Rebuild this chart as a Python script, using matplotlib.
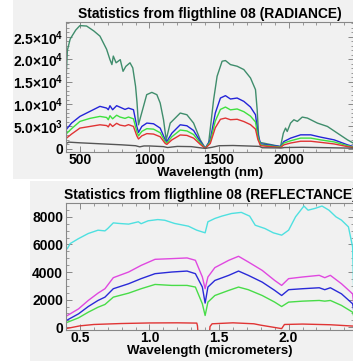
import matplotlib
matplotlib.use("Agg")
import matplotlib.pyplot as plt
from matplotlib.patches import Rectangle
from matplotlib.ticker import MultipleLocator, FixedLocator

plt.rcParams['font.family'] = ['Liberation Sans', 'DejaVu Sans']
plt.rcParams['font.weight'] = 'bold'
plt.rcParams['mathtext.fontset'] = 'custom'
plt.rcParams['mathtext.rm'] = 'Liberation Sans:bold'
plt.rcParams['mathtext.bf'] = 'Liberation Sans:bold'

# ---- радиация (верхний график), длина волны в нм ----
rad_green_x = [400, 410, 430, 470, 500, 548, 600, 644, 692, 716, 730, 740, 760, 790, 810, 830, 860, 880,
               900, 910, 921, 935, 957, 980, 1017, 1053, 1077, 1101, 1120, 1149, 1185, 1221, 1269, 1317,
               1365, 1401, 1425, 1461, 1486, 1522, 1546, 1582, 1630, 1678, 1726, 1762, 1774, 1786, 1798,
               1918, 1942, 1962, 1978, 1990, 2014, 2038, 2063, 2098, 2135, 2207, 2279, 2351, 2423, 2466]
rad_green = [15500, 22000, 24500, 26500, 27500, 27400, 26300, 25150, 22200, 19900, 18800, 20700, 19200,
             19900, 17300, 18400, 19200, 18060, 13950, 10500, 5370, 7000, 9480, 12090, 12600, 12090, 10220,
             6490, 2010, 5750, 6870, 7990, 7610, 5750, 2010, 150, 1270, 10970, 16190, 19550, 19700, 18800,
             18430, 17690, 15820, 13210, 8730, 2010, 1420, 670, 520, 3500, 4630, 3880, 5750, 6490, 6120,
             7090, 6870, 5750, 5000, 3500, 2010, 1270]

rad_x = [400, 440, 500, 572, 644, 692, 704, 716, 735, 764, 788, 824, 849, 885, 909, 921, 945, 981, 1029,
         1077, 1113, 1125, 1161, 1221, 1269, 1317, 1365, 1401, 1437, 1473, 1510, 1546, 1582, 1630, 1678,
         1726, 1762, 1779, 1798, 1942, 1966, 2014, 2086, 2159, 2231, 2327, 2423, 2466]
rad_blue = [4250, 5750, 7240, 8360, 9480, 9100, 8730, 9630, 8730, 9630, 9300, 8800, 9100, 8730, 5000, 3660,
            5000, 5750, 5600, 4630, 2010, 1640, 3500, 5370, 5150, 4100, 1640, 150, 2010, 7990, 11340, 11870,
            11120, 11340, 10600, 9330, 7610, 3500, 1120, 520, 1640, 2390, 3130, 3130, 2610, 2010, 900, 520]
rad_lgreen = [3300, 4500, 6120, 6800, 7240, 7000, 6500, 7400, 6700, 7500, 7100, 6800, 7100, 6700, 3900, 2900,
              3900, 4500, 4400, 3600, 1600, 1300, 2700, 4200, 4000, 3200, 1300, 120, 1600, 6200, 8800, 9330,
              8700, 8900, 8300, 7300, 6000, 2800, 900, 400, 1300, 1800, 2400, 2400, 2000, 1550, 700, 400]
rad_red = [2300, 3300, 4630, 5000, 5370, 5200, 4900, 5600, 5000, 5700, 5300, 5100, 5400, 5000, 2900, 2200,
           2900, 3400, 3300, 2700, 1200, 1000, 2000, 3100, 3000, 2400, 1000, 100, 1200, 4700, 6600, 6870,
           6500, 6600, 6100, 5400, 4400, 2100, 700, 300, 900, 1300, 1700, 1700, 1450, 1100, 500, 300]

rad_gray_x = [400, 420, 500, 600, 700, 800, 900, 930, 960, 1000, 1100, 1130, 1200, 1300, 1400, 1450, 1500,
              1600, 1700, 1790, 1810, 1950, 1970, 2100, 2300, 2466]
rad_gray = [1200, 1500, 1350, 1200, 1050, 900, 700, 450, 650, 650, 500, 300, 550, 500, 100, 350, 700, 750,
            650, 550, 250, 200, 300, 350, 250, 150]

rad_ticks = [0, 5000, 10000, 15000, 20000, 25000]
rad_labels = ['0', r'5.0×10$^3$', r'1.0×10$^4$', r'1.5×10$^4$', r'2.0×10$^4$', r'2.5×10$^4$']

# ---- отражение (нижний график), длина волны в мкм ----
ref_cyan_x = [0.41, 0.43, 0.49, 0.56, 0.63, 0.68, 0.70, 0.74, 0.78, 0.85, 0.92, 0.94, 0.99, 1.06, 1.11,
              1.18, 1.28, 1.34, 1.40, 1.42, 1.47, 1.52, 1.59, 1.66, 1.72, 1.76, 1.83, 1.89, 1.95, 2.00,
              2.05, 2.11, 2.14, 2.19, 2.24, 2.29, 2.34, 2.38, 2.43, 2.46, 2.47]
ref_cyan = [5700, 6060, 6420, 6790, 7030, 6980, 7150, 7560, 7520, 7470, 7640, 7500, 7710, 7800, 7750,
            7520, 7320, 7030, 6840, 7640, 7880, 8050, 8240, 8320, 8050, 7390, 7150, 6840, 6670, 7030,
            8000, 8780, 8480, 8610, 8780, 8480, 8000, 7760, 7270, 5820, 1940]

ref_x = [0.41, 0.49, 0.56, 0.63, 0.68, 0.74, 0.85, 0.94, 1.04, 1.16, 1.27, 1.33, 1.38, 1.40, 1.42, 1.47,
         1.57, 1.64, 1.71, 1.81, 1.90, 1.95, 2.00, 2.10, 2.22, 2.26, 2.30, 2.38, 2.46, 2.47]
ref_magenta = [850, 1330, 1940, 2470, 2790, 3590, 4000, 4480, 4920, 4970, 5020, 4850, 3640, 2790, 3640, 4320,
               4850, 5140, 4730, 4120, 3390, 3030, 3520, 3640, 3760, 3590, 3760, 3150, 2420, 1450]
ref_blue = [530, 970, 1500, 1940, 2180, 2790, 3150, 3520, 3880, 4000, 4070, 3880, 2910, 1750, 2910, 3390,
            3760, 4070, 3760, 3270, 2670, 2300, 2720, 2790, 2860, 2720, 2860, 2420, 1700, 1090]
ref_green = [360, 680, 1090, 1450, 1650, 2180, 2470, 2790, 3100, 3030, 3030, 2910, 1700, 850, 1820, 2300,
             2670, 2910, 2720, 2300, 1820, 1500, 1820, 1890, 1940, 1890, 1940, 1580, 1090, 730]

ref_red_x = [0.41, 0.5, 0.6, 0.8, 1.0, 1.2, 1.34, 1.345, 1.35, 1.43, 1.435, 1.45, 1.6, 1.75, 1.80, 1.95,
             1.96, 1.97, 2.1, 2.3, 2.47]
ref_red = [-80, 100, 200, 270, 310, 320, 300, 100, -600, -600, 50, 250, 320, 250, 150, -100, 50, 200, 230,
           180, 80]

fig = plt.figure(figsize=(3.53, 3.61), dpi=100)
# серый фон двух скриншотов
fig.patches.append(Rectangle((13 / 353, 1 - 179 / 361), 1, 179 / 361, transform=fig.transFigure,
                             facecolor='#f1f1f1', edgecolor='none', zorder=-10))
fig.patches.append(Rectangle((30 / 353, 0), 1, 1 - 181 / 361, transform=fig.transFigure,
                             facecolor='#f1f1f1', edgecolor='none', zorder=-10))

ax1 = fig.add_axes([66 / 353, 1 - 152 / 361, 288 / 353, 130 / 361])
ax2 = fig.add_axes([66 / 353, 1 - 330 / 361, 288 / 353, 127 / 361])

fs = 10
lw = 1.0
ax1.plot(rad_green_x, rad_green, color='#3f8d6c', lw=lw)
ax1.plot(rad_x, rad_blue, color='#2424d8', lw=lw)
ax1.plot(rad_x, rad_lgreen, color='#3ee03e', lw=lw)
ax1.plot(rad_x, rad_red, color='#e03434', lw=lw)
ax1.plot(rad_gray_x, rad_gray, color='#555555', lw=lw)
ax1.set_xlim(400, 2470)
ax1.set_ylim(-700, 28300)
ax1.yaxis.set_major_locator(FixedLocator(rad_ticks))
ax1.set_yticklabels(rad_labels)
ax1.xaxis.set_major_locator(FixedLocator([500, 1000, 1500, 2000]))
ax1.xaxis.set_minor_locator(MultipleLocator(100))
ax1.yaxis.set_minor_locator(MultipleLocator(1000))
ax1.set_title('Statistics from fligthline 08 (RADIANCE)', fontsize=fs, fontweight='bold', pad=3)
ax1.set_xlabel('Wavelength (nm)', fontsize=9.5, fontweight='bold', labelpad=0)

ax2.plot(ref_cyan_x, ref_cyan, color='#4ee0e0', lw=lw)
ax2.plot(ref_x, ref_magenta, color='#e048e0', lw=lw)
ax2.plot(ref_x, ref_blue, color='#2a2ad8', lw=lw)
ax2.plot(ref_x, ref_green, color='#48dc48', lw=lw)
ax2.plot(ref_red_x, ref_red, color='#e03434', lw=lw)
ax2.set_xlim(0.4, 2.47)
ax2.set_ylim(-200, 9000)
ax2.xaxis.set_major_locator(FixedLocator([0.5, 1.0, 1.5, 2.0]))
ax2.xaxis.set_minor_locator(MultipleLocator(0.1))
ax2.yaxis.set_major_locator(FixedLocator([0, 2000, 4000, 6000, 8000]))
ax2.yaxis.set_minor_locator(MultipleLocator(500))
ax2.set_title('Statistics from fligthline 08 (REFLECTANCE)', fontsize=fs, fontweight='bold', pad=3)
ax2.set_xlabel('Wavelength (micrometers)', fontsize=9.5, fontweight='bold', labelpad=0)

for ax in (ax1, ax2):
    ax.set_facecolor('none')
    for s in ax.spines.values():
        s.set_color('#888888')
        s.set_linewidth(0.8)
    ax.tick_params(which='both', direction='in', top=True, right=True, colors='#888888',
                   labelcolor='black', labelsize=fs, pad=2)
    ax.tick_params(axis='x', which='both', pad=1)
    ax.tick_params(which='major', length=4, width=0.7)
    ax.tick_params(which='minor', length=2, width=0.6)
    for lab in ax.get_xticklabels() + ax.get_yticklabels():
        lab.set_fontweight('bold')

fig.savefig('out.png', dpi=100)
